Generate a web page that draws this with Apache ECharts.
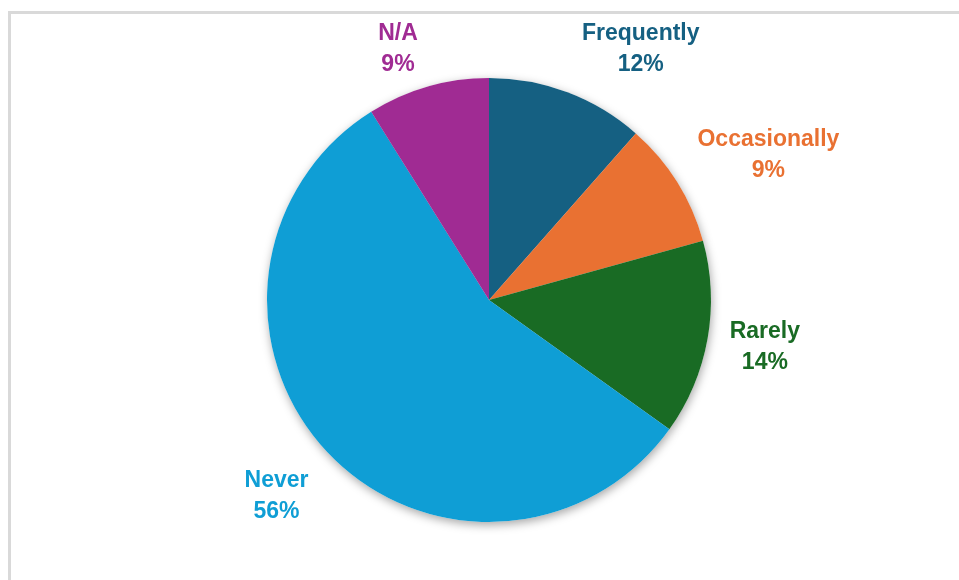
<!DOCTYPE html>
<html>
<head>
<meta charset="utf-8">
<script src="https://cdn.jsdelivr.net/npm/echarts@6/dist/echarts.min.js"></script>
<style>
  html, body { margin: 0; padding: 0; background: #ffffff; }
  #chart { width: 959px; height: 580px; }
</style>
</head>
<body>
<div id="chart"></div>
<script>
// Data
const categories = ['Frequently', 'Occasionally', 'Rarely', 'Never', 'N/A'];
const values = [11.5, 9.2, 14.2, 56.2, 8.9];

// Styling (kept separate from the data)
const sliceColors = ['#156082', '#E97132', '#196B24', '#0F9ED5', '#A02B93'];
const labelLen = [46, 51, 46, 64, 39];
const labelLen2 = [57, 48, 12, 4, 19];

const chart = echarts.init(document.getElementById('chart'), null, { renderer: 'canvas' });

const mainData = categories.map((name, i) => ({
  name: name,
  value: values[i],
  itemStyle: { color: sliceColors[i] },
  labelLine: { show: false, length: labelLen[i], length2: labelLen2[i] }
}));
const shadowData = categories.map((name, i) => ({ name: name, value: values[i] }));

chart.setOption({
  animation: false,
  backgroundColor: '#ffffff',
  graphic: [{
    type: 'rect',
    left: 7, top: 10,
    shape: { width: 1000, height: 1000 },
    style: { fill: 'none', stroke: '#d9d9d9', lineWidth: 3 },
    silent: true
  }],
  series: [
    {
      type: 'pie',
      silent: true,
      z: 1,
      center: [489, 300],
      radius: 222,
      startAngle: 90,
      clockwise: true,
      label: { show: false },
      labelLine: { show: false },
      itemStyle: {
        color: '#ffffff',
        shadowBlur: 10,
        shadowOffsetX: 1,
        shadowOffsetY: 3,
        shadowColor: 'rgba(0,0,0,0.35)'
      },
      data: shadowData
    },
    {
      type: 'pie',
      z: 2,
      center: [489, 300],
      radius: 222,
      startAngle: 90,
      clockwise: true,
      avoidLabelOverlap: false,
      percentPrecision: 0,
      itemStyle: { borderWidth: 0 },
      label: {
        show: true,
        position: 'outside',
        alignTo: 'none',
        distanceToLabelLine: 0,
        formatter: '{b}\n{d}%',
        color: 'inherit',
        fontFamily: '"Liberation Sans", Arial, sans-serif',
        fontWeight: 'bold',
        fontSize: 23,
        lineHeight: 31
      },
      labelLayout: function () {
        return { align: 'center' };
      },
      data: mainData
    }
  ]
});
</script>
</body>
</html>
